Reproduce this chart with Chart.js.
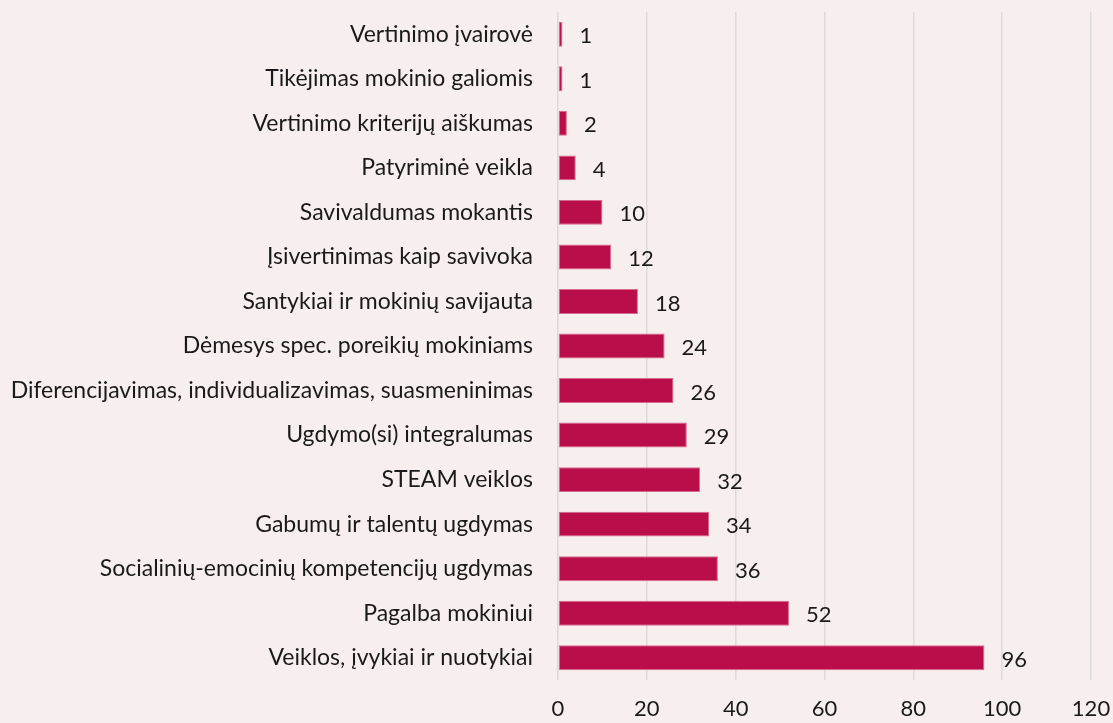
<!DOCTYPE html>
<html>
<head>
<meta charset="utf-8">
<script src="https://cdn.jsdelivr.net/npm/chart.js@4"></script>
<style>
  html, body { margin: 0; padding: 0; background: #f7efee; }
  #wrap { width: 1113px; height: 723px; }
</style>
</head>
<body>
<div id="wrap"><canvas id="topic-chart"></canvas></div>
<script>
const labels = [
  'Vertinimo įvairovė',
  'Tikėjimas mokinio galiomis',
  'Vertinimo kriterijų aiškumas',
  'Patyriminė veikla',
  'Savivaldumas mokantis',
  'Įsivertinimas kaip savivoka',
  'Santykiai ir mokinių savijauta',
  'Dėmesys spec. poreikių mokiniams',
  'Diferencijavimas, individualizavimas, suasmeninimas',
  'Ugdymo(si) integralumas',
  'STEAM veiklos',
  'Gabumų ir talentų ugdymas',
  'Socialinių-emocinių kompetencijų ugdymas',
  'Pagalba mokiniui',
  'Veiklos, įvykiai ir nuotykiai'
]

const counts = [1, 1, 2, 4, 10, 12, 18, 24, 26, 29, 32, 34, 36, 52, 96]

const xTicks = [0, 20, 40, 60, 80, 100, 120]

const font = "Lato, 'Noto Sans', sans-serif"

// value labels to the right of each bar
const valueLabels = {
  id: 'valueLabels',
  afterDatasetsDraw(chart) {
    const ctx = chart.ctx
    const meta = chart.getDatasetMeta(0)
    ctx.save()
    ctx.font = '22px ' + font
    ctx.fillStyle = '#1a1a1a'
    ctx.textAlign = 'left'
    ctx.textBaseline = 'middle'
    meta.data.forEach((bar, i) => {
      ctx.fillText(String(counts[i]), bar.x + 17, bar.y + 2)
    })
    ctx.restore()
  }
}

const ctx = document.querySelector('#topic-chart').getContext('2d')

const chart = new Chart(ctx, {
  type: 'bar',
  data: {
    labels,
    datasets: [{
      data: counts,
      backgroundColor: '#b90e4a',
      borderColor: '#d86a8f',
      borderWidth: 1,
      borderSkipped: false,
      barPercentage: 0.56,
      categoryPercentage: 1,
    }]
  },
  options: {
    indexAxis: 'y',
    responsive: true,
    maintainAspectRatio: false,
    animation: false,
    layout: { padding: { top: 12, right: 0, left: 0, bottom: 0 } },
    plugins: {
      legend: { display: false },
      tooltip: { enabled: false },
    },
    scales: {
      x: {
        min: 0,
        max: 120,
        afterBuildTicks(scale) {
          scale.ticks = xTicks.map(v => ({ value: v }))
        },
        afterFit(scale) {
          scale.height = 43
          scale.paddingRight = 22
          scale.paddingLeft = 0
        },
        grid: {
          color: '#dcdada',
          lineWidth: 1.5,
          drawTicks: false,
        },
        border: { display: false },
        ticks: {
          color: '#1a1a1a',
          padding: 16,
          font: { family: font, size: 22 },
        },
      },
      y: {
        afterFit(scale) {
          scale.width = 558
          scale.paddingTop = 0
          scale.paddingBottom = 0
        },
        grid: { display: false },
        border: { display: false },
        ticks: {
          color: '#1a1a1a',
          padding: 17,
          font: { family: font, size: 23 },
        },
      },
    },
  },
  plugins: [valueLabels],
})
</script>
</body>
</html>
